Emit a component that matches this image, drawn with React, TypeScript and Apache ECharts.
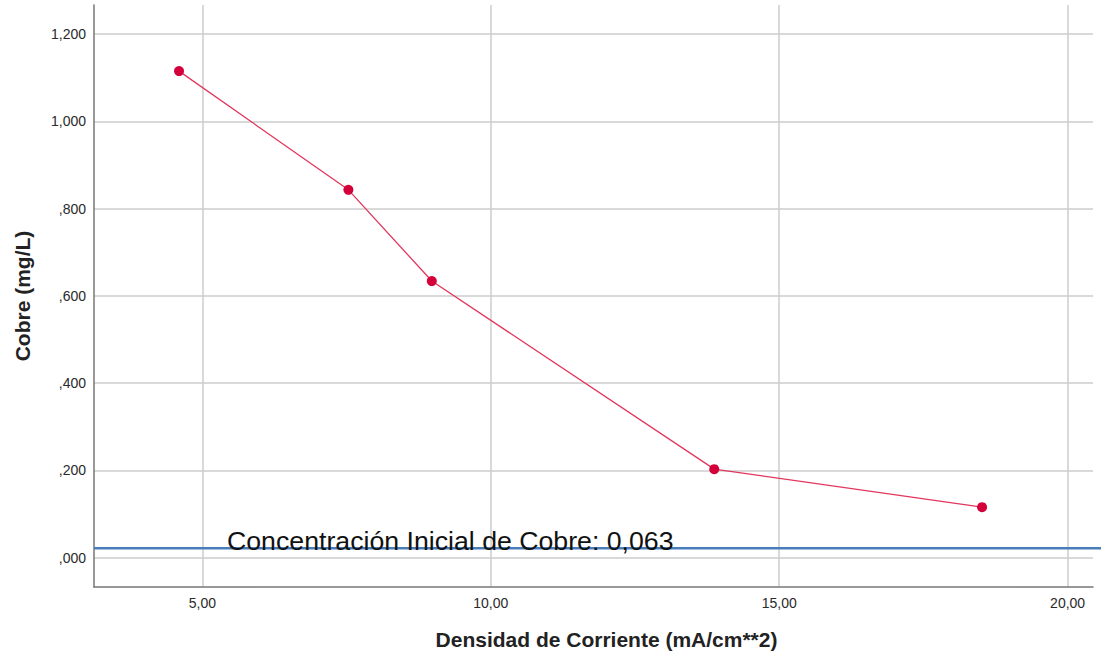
import React, { useEffect, useRef } from "react";
import * as echarts from "echarts";

const densidad = [4.596, 7.532, 8.978, 13.874, 18.517];
const cobre = [1.115, 0.843, 0.634, 0.203, 0.116];
const referenciaValor = 0.0215;
const referenciaTexto = "Concentración Inicial de Cobre: 0,063";
const xTitulo = "Densidad de Corriente (mA/cm**2)";
const yTitulo = "Cobre (mg/L)";
const xRango = [3.122, 20.44];
const yRango = [-0.067, 1.2665];

const fmtY = (v: number) => {
  const s = v.toFixed(3).replace(".", ",");
  return s.startsWith("0") ? s.slice(1) : s;
};
const fmtX = (v: number) => v.toFixed(2).replace(".", ",");

export default function App() {
  const ref = useRef<HTMLDivElement>(null);
  useEffect(() => {
    document.body.style.margin = "0";
    const chart = echarts.init(ref.current!, null, { renderer: "svg" });
    const font = "'Liberation Sans', Arial, sans-serif";
    chart.setOption({
      animation: false,
      grid: { left: 94, right: 8, top: 5, bottom: 72, containLabel: false },
      xAxis: {
        type: "value",
        min: xRango[0],
        max: xRango[1],
        minInterval: 5,
        maxInterval: 5,
        name: xTitulo,
        nameLocation: "middle",
        nameGap: 42,
        nameTextStyle: { fontFamily: font, fontSize: 21, fontWeight: "bold", color: "#222", padding: [0, 0, 0, 26] },
        axisLine: { show: true, onZero: false, lineStyle: { color: "#777", width: 1.5 } },
        axisTick: { show: false },
        axisLabel: { showMinLabel: false, showMaxLabel: false, formatter: fmtX, fontFamily: font, fontSize: 14, color: "#2a2a2a", margin: 9 },
        splitLine: { show: true, showMinLine: false, showMaxLine: false, lineStyle: { color: "#cccccc", width: 1.5 } },
      },
      yAxis: {
        type: "value",
        min: yRango[0],
        max: yRango[1],
        minInterval: 0.2,
        maxInterval: 0.2,
        name: yTitulo,
        nameLocation: "middle",
        nameGap: 61,
        nameTextStyle: { fontFamily: font, fontSize: 21, fontWeight: "bold", color: "#222" },
        axisLine: { show: true, onZero: false, lineStyle: { color: "#777", width: 1.5 } },
        axisTick: { show: false },
        axisLabel: { showMinLabel: false, showMaxLabel: false, formatter: fmtY, fontFamily: font, fontSize: 14, color: "#2a2a2a", margin: 8 },
        splitLine: { show: true, showMinLine: false, showMaxLine: false, lineStyle: { color: "#cccccc", width: 1.5 } },
      },
      series: [
        {
          type: "line",
          data: densidad.map((x, i) => [x, cobre[i]]),
          symbol: "circle",
          symbolSize: 10,
          itemStyle: { color: "#d3003a" },
          lineStyle: { color: "#e2365d", width: 1.3 },
          z: 5,
        },
      ],
    });
    const yPix = chart.convertToPixel({ yAxisIndex: 0 }, referenciaValor) as number;
    const xLeft = chart.convertToPixel({ xAxisIndex: 0 }, xRango[0]) as number;
    chart.setOption({
      graphic: [
        {
          type: "line",
          shape: { x1: xLeft, y1: yPix, x2: 1101, y2: yPix },
          style: { stroke: "#4a7ebb", lineWidth: 2.5 },
          z: 10,
        },
        {
          type: "text",
          x: xLeft + 133,
          y: yPix + 6,
          style: { text: referenciaTexto, font: `26.7px ${font}`, fill: "#111", verticalAlign: "bottom" },
          z: 11,
        },
      ],
    });
    return () => chart.dispose();
  }, []);
  return <div ref={ref} style={{ width: 1101, height: 659 }} />;
}
